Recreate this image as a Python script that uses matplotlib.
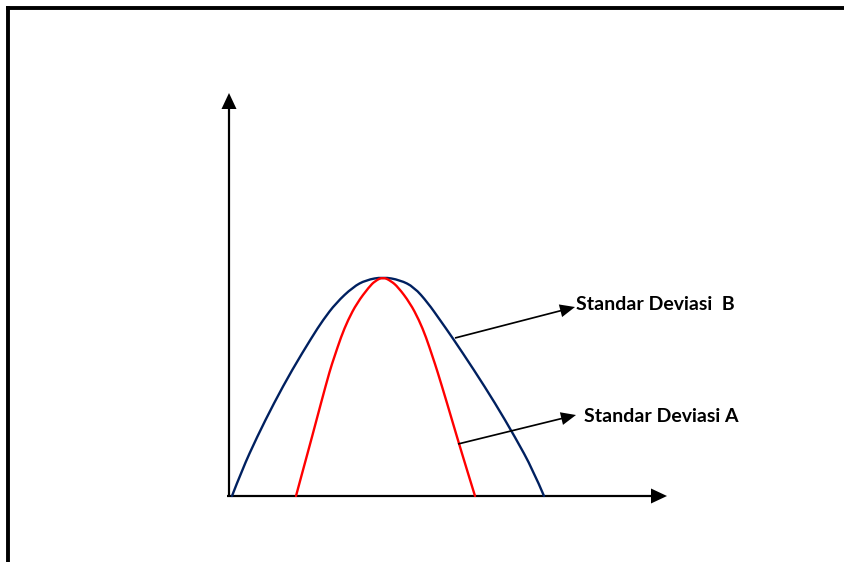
import matplotlib
matplotlib.use('Agg')
from matplotlib import pyplot as plt
from matplotlib.path import Path
from matplotlib.patches import PathPatch

# curve points, measured from the axis origin (x to the right, h upwards)
blue_x = [3, 13, 28, 45, 63, 83, 94, 107, 124, 137, 154, 171, 185, 199, 211, 223, 245, 266, 286, 304, 315]
blue_h = [0, 26, 59, 93, 126, 159, 176, 193, 209, 216, 219, 216, 209, 193, 176, 159, 126, 93, 59, 26, 0]

red_x = [67, 74, 83, 92, 101, 105, 112, 119, 128, 140, 146, 154, 162, 169, 181, 190, 197, 204, 208, 218, 228, 238, 246]
red_h = [0, 26, 59, 93, 126, 138, 159, 176, 193, 209, 215, 219, 215, 209, 193, 176, 159, 138, 126, 93, 59, 26, 0]

label_b = 'Standar Deviasi  B'
label_a = 'Standar Deviasi A'


def smooth_curve(xs, ys, color):
    # quadratic bezier through the midpoints, the read points act as controls
    verts = [(xs[0], ys[0])]
    codes = [Path.MOVETO]
    for i in range(1, len(xs) - 1):
        verts.append((xs[i], ys[i]))
        if i < len(xs) - 2:
            verts.append(((xs[i] + xs[i + 1]) / 2, (ys[i] + ys[i + 1]) / 2))
        else:
            verts.append((xs[i + 1], ys[i + 1]))
        codes += [Path.CURVE3, Path.CURVE3]
    return PathPatch(Path(verts, codes), facecolor='none', edgecolor=color,
                     linewidth=1.7, capstyle='round', joinstyle='round')


fig = plt.figure(figsize=(8.44, 5.62), dpi=100)
ax = fig.add_axes([0, 0, 1, 1])
ax.set_xlim(-229, 615)
ax.set_ylim(-66, 496)
ax.axis('off')

# frame (top and left edges only visible)
ax.plot([-221, 615], [488, 488], color='black', linewidth=2.8, clip_on=False, solid_capstyle='projecting')
ax.plot([-221, -221], [488, -66], color='black', linewidth=2.8, clip_on=False, solid_capstyle='projecting')

# axes with arrow heads
ax.arrow(0, -1, 0, 404, width=2.2, head_width=15, head_length=16,
         length_includes_head=True, color='black', linewidth=0)
ax.arrow(-2, 0, 440, 0, width=2.2, head_width=15, head_length=16,
         length_includes_head=True, color='black', linewidth=0)

ax.add_patch(smooth_curve(blue_x, blue_h, '#002060'))
ax.add_patch(smooth_curve(red_x, red_h, '#ff0000'))

# pointers
ax.arrow(226, 158, 120, 31, width=1.7, head_width=13, head_length=15,
         length_includes_head=True, color='black', linewidth=0)
ax.arrow(229, 52, 118, 29, width=1.7, head_width=13, head_length=15,
         length_includes_head=True, color='black', linewidth=0)

ax.text(347, 192, label_b, fontsize=14, fontweight='bold', family='Lato',
        ha='left', va='center')
ax.text(355, 79, label_a, fontsize=14, fontweight='bold', family='Lato',
        ha='left', va='center')

fig.savefig('out.png', dpi=100)
